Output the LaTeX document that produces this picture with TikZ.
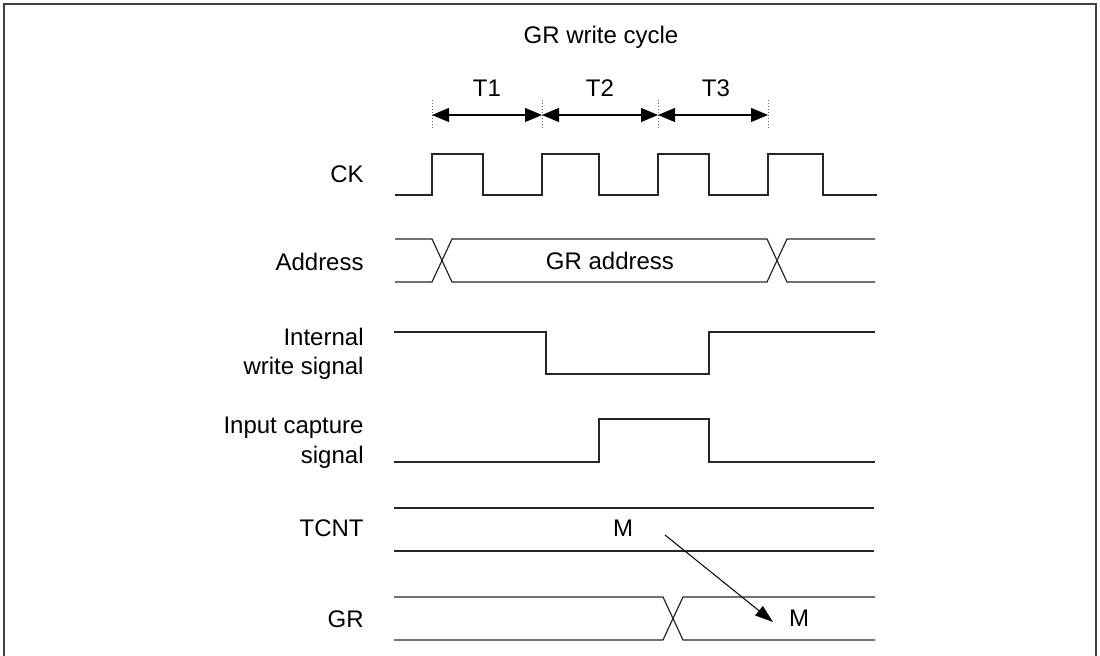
\documentclass[tikz,border=0pt]{standalone}
\usepackage{fontspec}
\setmainfont{Liberation Sans}
\usetikzlibrary{arrows.meta}

\begin{document}
\begin{tikzpicture}[x=0.5pt, y=-0.5pt,
    % Node styles
    signame/.style={anchor=base east, inner sep=0pt, font=\fontsize{12}{14.8}\selectfont},
    twoline/.style={anchor=east, align=right, inner sep=0pt, font=\fontsize{12}{14.8}\selectfont},
    txt/.style={anchor=base, inner sep=0pt, font=\fontsize{12}{14.8}\selectfont},
    % Edge styles
    wave/.style={draw=black!85, line width=0.6pt},
    tick/.style={draw=black!60, densely dotted, line width=0.5pt},
    dim/.style={draw=black, line width=0.6pt, {Triangle[length=8.5pt,width=7pt]}-{Triangle[length=8.5pt,width=7pt]}},
    edge/.style={draw=black, line width=0.5pt, -{Triangle[length=9pt,width=6pt]}}
]
\useasboundingbox (0,0) rectangle (1100,656);

% Frame
\draw[line width=1pt, draw=black!75] (4,656) -- (4,4) -- (1096,4) -- (1096,656);

% Title
\node[txt] (title) at (601,44) {GR write cycle};

% Period marks
\draw[tick] (432,100) -- (432,130);
\draw[tick] (542,100) -- (542,130);
\draw[tick] (658,100) -- (658,130);
\draw[tick] (768,100) -- (768,130);

\coordinate (c0) at (432,115);
\coordinate (c1) at (542,115);
\coordinate (c2) at (658,115);
\coordinate (c3) at (768,115);

\node[txt] (t1) at (487,97) {T1};
\node[txt] (t2) at (600,97) {T2};
\node[txt] (t3) at (716,97) {T3};

% Signal names
\node[signame] (ck) at (364,183) {CK};
\node[signame] (addr) at (364,271) {Address};
\node[twoline] (wr) at (364,354) {Internal\\write signal};
\node[twoline] (cap) at (364,443) {Input capture\\signal};
\node[signame] (tcnt) at (364,537) {TCNT};
\node[signame] (gr) at (364,628) {GR};

% CK
\draw[wave] (395,195) -| (432,154) -| (483,195) -| (542,154) -| (599,195)
    -| (658,154) -| (709,195) -| (768,154) -| (823,195) -- (877,195);

% Address
\draw[wave] (395,239) -- (432,239) -- (452,282) -- (767,282) -- (787,239) -- (875,239);
\draw[wave] (395,282) -- (432,282) -- (452,239) -- (767,239) -- (787,282) -- (875,282);
\node[txt] (graddr) at (610,270) {GR address};

% Internal write signal
\draw[wave] (394,332) -| (546,374) -| (709,332) -- (875,332);

% Input capture signal
\draw[wave] (394,462) -| (599,419) -| (709,462) -- (875,462);

% TCNT
\draw[wave] (394,508) -- (874,508);
\draw[wave] (394,551) -- (874,551);
\node[txt] (mcnt) at (623,537) {M};

% GR
\draw[wave] (394,597) -- (663,597) -- (683,640) -- (875,640);
\draw[wave] (394,640) -- (663,640) -- (683,597) -- (875,597);
\node[txt] (mgr) at (799,627) {M};

% Arrows
\draw[dim] (c0) -- (c1);
\draw[dim] (c1) -- (c2);
\draw[dim] (c2) -- (c3);

\coordinate (mfrom) at (665,535);
\coordinate (mto) at (773,622);
\draw[edge] (mfrom) -- (mto);

\end{tikzpicture}
\end{document}
